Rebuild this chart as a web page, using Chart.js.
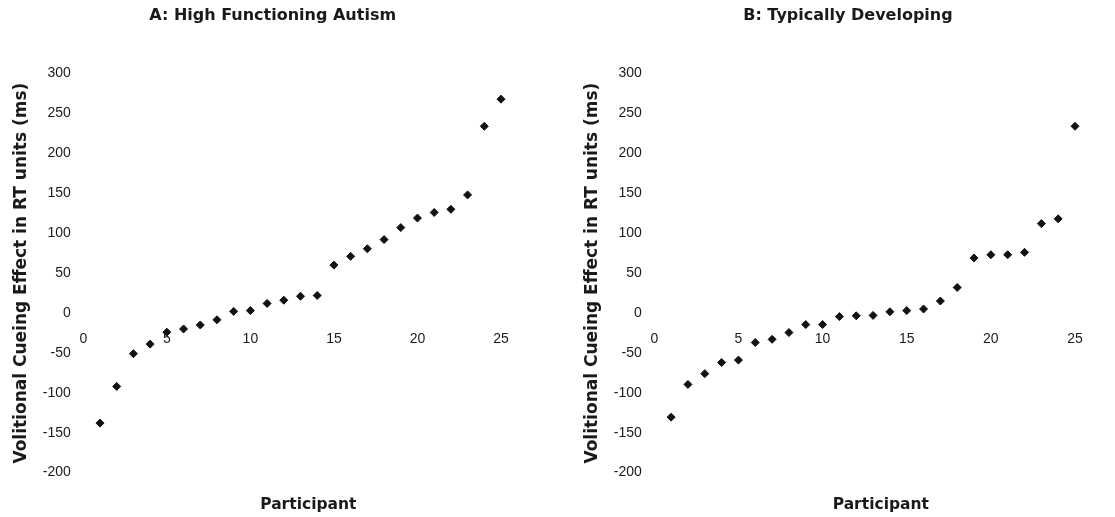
<!DOCTYPE html>
<html>
<head>
<meta charset="utf-8">
<script src="https://cdn.jsdelivr.net/npm/chart.js@4.4.1/dist/chart.umd.min.js"></script>
<style>
  html, body { margin: 0; padding: 0; background: #fff; }
  #wrap { position: relative; width: 1115px; height: 517px; overflow: hidden; }
  canvas { position: absolute; top: 0; }
  #panelA { left: 0; }
  #panelB { left: 557px; }
</style>
</head>
<body>
<div id="wrap">
  <canvas id="panelA" width="557" height="517"></canvas>
  <canvas id="panelB" width="558" height="517"></canvas>
</div>
<script>
const participants = [1, 2, 3, 4, 5, 6, 7, 8, 9, 10, 11, 12, 13, 14, 15, 16, 17, 18, 19, 20, 21, 22, 23, 24, 25];

// A: high functioning autism, volitional cueing effect (ms)
const hfaEffect = [-138, -92, -51, -39, -24, -20, -15, -8.5, 2, 3, 12, 16, 21, 22,
  60, 71, 80.5, 92, 107, 119, 126, 130, 148, 234, 268];

// B: typically developing
const tdEffect = [-130.5, -89.5, -76, -62, -59, -37, -33, -24.5, -14.5, -14.5, -4.5, -3.5, -3,
  1.5, 3, 5, 15, 32, 69, 73, 73, 76, 112, 118, 234];

const xTicks = [0, 5, 10, 15, 20, 25];
const yTicks = [-200, -150, -100, -50, 0, 50, 100, 150, 200, 250, 300];

const textColor = '#1a1a1a';
const boldFont = 'DejaVu Sans';
const tickFont = 'Liberation Sans';

function makePanel(id, title, values, layout) {
  const ctx = document.getElementById(id).getContext('2d');
  return new Chart(ctx, {
    type: 'scatter',
    data: {
      datasets: [{
        label: title,
        data: participants.map((p, i) => ({ x: p, y: values[i] })),
        pointStyle: 'rectRot',
        pointRadius: 4,
        pointHoverRadius: 4,
        backgroundColor: '#111',
        borderColor: '#111',
        borderWidth: 1,
        clip: false,
      }],
    },
    options: {
      responsive: false,
      animation: false,
      layout: {
        padding: { left: 0, right: layout.right, top: 0, bottom: 0 },
      },
      plugins: {
        legend: { display: false },
        tooltip: { enabled: false },
        title: {
          display: true,
          // trailing spaces nudge the centred title left, as in the original
          text: title + ' '.repeat(layout.titleShift),
          fullSize: false,
          color: textColor,
          font: { family: boldFont, size: 16, weight: 'bold' },
          padding: { top: 6.4, bottom: 48 },
        },
        subtitle: {
          display: true,
          position: 'bottom',
          text: ' '.repeat(layout.xTitleShift) + 'Participant',
          fullSize: false,
          color: textColor,
          font: { family: boldFont, size: 15.5, weight: 'bold' },
          padding: { top: 22.8, bottom: 3 },
        },
      },
      scales: {
        x: {
          type: 'linear',
          position: { y: 0 },
          min: 0,
          max: 25,
          afterBuildTicks: (axis) => { axis.ticks = xTicks.map((v) => ({ value: v })); },
          grid: { display: false, drawTicks: false },
          border: { display: false },
          ticks: {
            color: textColor,
            padding: 18,
            maxRotation: 0,
            font: { family: tickFont, size: 14 },
          },
        },
        y: {
          type: 'linear',
          position: 'left',
          min: -200,
          max: 300,
          afterBuildTicks: (axis) => { axis.ticks = yTicks.map((v) => ({ value: v })); },
          afterFit: (axis) => { axis.width = layout.axisWidth; },
          grid: { display: false, drawTicks: false },
          border: { display: false },
          ticks: {
            color: textColor,
            padding: 12.5,
            font: { family: tickFont, size: 14 },
          },
          title: {
            display: true,
            text: 'Volitional Cueing Effect in RT units (ms)',
            color: textColor,
            font: { family: boldFont, size: 17, weight: 'bold' },
            padding: { top: layout.yTitlePad, bottom: 0 },
          },
        },
      },
    },
  });
}

makePanel('panelA', 'A: High Functioning Autism', hfaEffect, {
  right: 56, axisWidth: 83.3, yTitlePad: 11.8, titleShift: 7, xTitleShift: 6,
});

makePanel('panelB', 'B: Typically Developing', tdEffect, {
  right: 40, axisWidth: 97.3, yTitlePad: 25.8, titleShift: 6, xTitleShift: 6,
});
</script>
</body>
</html>
